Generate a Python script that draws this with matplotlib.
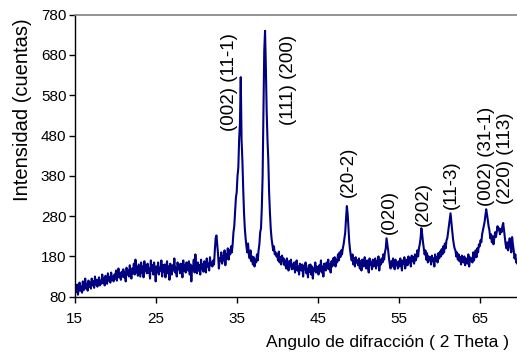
import numpy as np
import matplotlib
matplotlib.use("Agg")
import matplotlib.pyplot as plt

plt.rcParams['font.family'] = ['Liberation Sans', 'DejaVu Sans']

# 2-theta from 15.0 in steps of 0.1 degree
two_theta_start = 15.0
two_theta_step = 0.1
counts = [
    88, 102, 92, 110, 85, 98, 115, 95, 105, 90,          # 15
    118, 96, 108, 125, 100, 112, 95, 120, 105, 115,      # 16
    100, 125, 108, 118, 102, 130, 110, 122, 105, 115,    # 17
    128, 108, 120, 112, 135, 115, 125, 108, 132, 118,    # 18
    112, 138, 120, 128, 115, 140, 122, 130, 118, 135,    # 19
    125, 145, 120, 132, 150, 128, 138, 122, 142, 130,    # 20
    148, 128, 140, 118, 152, 135, 145, 130, 158, 138,    # 21
    125, 150, 138, 162, 135, 172, 140, 155, 132, 160,    # 22
    145, 130, 165, 140, 155, 128, 168, 145, 158, 138,    # 23
    162, 140, 150, 125, 170, 145, 158, 135, 165, 148,    # 24
    118, 155, 140, 165, 135, 152, 145, 170, 130, 158,    # 25
    142, 160, 128, 150, 168, 138, 155, 122, 162, 145,    # 26
    135, 158, 145, 175, 140, 152, 130, 165, 148, 160,    # 27
    138, 162, 150, 128, 170, 145, 158, 140, 165, 150,    # 28
    145, 168, 135, 160, 118, 155, 148, 172, 140, 185,    # 29
    150, 138, 165, 145, 158, 135, 172, 148, 160, 142,    # 30
    168, 150, 140, 175, 155, 162, 145, 178, 158, 165,    # 31
    155, 170, 160, 195, 225, 232, 210, 185, 150, 175,    # 32
    168, 190, 162, 180, 170, 195, 158, 185, 175, 200,    # 33
    172, 195, 185, 205, 190, 210, 240, 255, 290, 325,    # 34
    340, 380, 400, 470, 510, 625, 470, 420, 350, 290,    # 35
    250, 225, 205, 190, 212, 185, 175, 195, 168, 180,    # 36
    160, 178, 155, 172, 165, 185, 170, 195, 210, 240,    # 37
    250, 300, 380, 540, 690, 740, 650, 540, 470, 420,    # 38
    340, 290, 250, 225, 210, 195, 205, 185, 190, 180,    # 39
    185, 170, 192, 165, 178, 160, 182, 168, 175, 158,    # 40
    170, 150, 175, 162, 145, 168, 155, 172, 148, 160,    # 41
    150, 165, 140, 158, 170, 145, 155, 135, 162, 150,    # 42
    145, 160, 130, 155, 148, 165, 138, 150, 128, 158,    # 43
    142, 160, 135, 155, 125, 150, 145, 165, 140, 155,    # 44
    148, 135, 158, 145, 170, 140, 155, 130, 162, 150,    # 45
    145, 165, 150, 172, 148, 160, 140, 168, 155, 175,    # 46
    160, 178, 155, 172, 165, 185, 170, 190, 178, 195,    # 47
    185, 200, 210, 225, 240, 275, 305, 285, 250, 215,    # 48
    195, 180, 170, 185, 160, 175, 155, 178, 165, 170,    # 49
    158, 175, 150, 168, 145, 172, 160, 155, 178, 162,    # 50
    150, 170, 158, 140, 175, 160, 165, 148, 172, 155,    # 51
    162, 175, 150, 168, 158, 180, 145, 170, 160, 175,    # 52
    165, 185, 172, 190, 200, 225, 210, 195, 175, 160,    # 53
    150, 168, 155, 175, 160, 148, 172, 158, 165, 150,    # 54
    168, 155, 175, 160, 145, 170, 162, 178, 150, 165,    # 55
    172, 158, 180, 165, 175, 155, 182, 168, 178, 162,    # 56
    185, 170, 178, 195, 180, 200, 210, 225, 250, 235,    # 57
    215, 200, 185, 195, 172, 188, 165, 180, 170, 178,    # 58
    160, 182, 168, 175, 155, 185, 170, 178, 165, 188,    # 59
    175, 192, 180, 198, 185, 205, 190, 212, 200, 220,    # 60
    225, 240, 255, 270, 287, 265, 245, 225, 210, 200,    # 61
    195, 180, 190, 172, 185, 168, 178, 160, 182, 170,    # 62
    165, 180, 158, 175, 170, 162, 185, 155, 178, 168,    # 63
    175, 165, 190, 170, 185, 195, 178, 200, 190, 210,    # 64
    205, 220, 215, 235, 245, 255, 265, 280, 297, 285,    # 65
    270, 255, 245, 225, 235, 215, 230, 210, 225, 240,    # 66
    228, 240, 255, 245, 250, 235, 248, 240, 255, 263,    # 67
    245, 225, 210, 200, 215, 195, 210, 225, 205, 190,    # 68
    228, 210, 195, 175, 185, 165, 170, 160, 175, 165,    # 69
]

peak_labels = ["(002) (11-1)", "(111) (200)", "(20-2)", "(020)", "(202)",
               "(11-3)", "(002) (31-1)", "(220) (113)"]
label_x = [34.05, 41.4, 48.8, 53.9, 58.1, 61.5, 65.9, 68.2]
label_y = [613, 618, 389, 290, 310, 359, 429, 424]

x_ticks = [15, 25, 35, 45, 55, 65]
y_ticks = [80, 180, 280, 380, 480, 580, 680, 780]

two_theta = two_theta_start + two_theta_step * np.arange(len(counts))

W, H = 517, 354
fig = plt.figure(figsize=(W / 100, H / 100), dpi=100)
ax = fig.add_axes([74.7 / W, 1 - 296.7 / H, (W - 74.7) / W, (296.7 - 14.7) / H])

ax.plot(two_theta, counts, color='#000080', lw=1.5)

ax.set_xlim(15, 15 + (W - 74.7) / 8.1)
ax.set_ylim(80, 780)
ax.set_xticks(x_ticks)
ax.set_yticks(y_ticks)
ax.tick_params(axis='both', direction='out', length=4, width=1, labelsize=11, colors='black')
ax.tick_params(axis='x', pad=7)
ax.tick_params(axis='y', pad=2)

ax.spines['right'].set_visible(False)
ax.spines['top'].set_color('#808080')
ax.spines['top'].set_linewidth(1.2)
ax.spines['left'].set_linewidth(1.0)
ax.spines['bottom'].set_linewidth(1.0)

for t, lx, ly in zip(peak_labels, label_x, label_y):
    ax.text(lx, ly, t, rotation=90, ha='center', va='center', fontsize=13.5)

fig.text(388 / W, 1 - 343 / H, "Angulo de difracción ( 2 Theta )", ha='center', va='center', fontsize=12.5)
fig.text(22.5 / W, 1 - 110 / H, "Intensidad (cuentas)", rotation=90, ha='center', va='center', fontsize=14.5)

fig.savefig("out.png", dpi=100)
